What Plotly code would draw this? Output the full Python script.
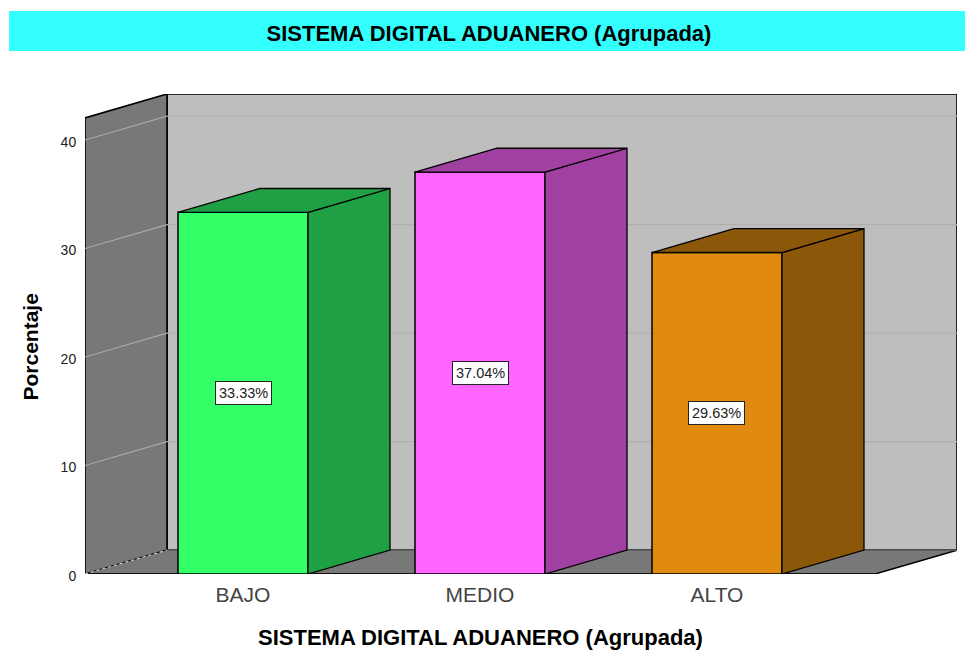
import plotly.graph_objects as go

categories = ["BAJO", "MEDIO", "ALTO"]
values = [33.33, 37.04, 29.63]
front_colors = ["#33FF66", "#FF66FF", "#E08A10"]
side_colors = ["#20A045", "#A040A0", "#8A5808"]
y_ticks = [0, 10, 20, 30, 40]
title_text = "SISTEMA DIGITAL ADUANERO (Agrupada)"
y_title = "Porcentaje"

# Scene proportions in axis units
BAR_W = 0.5485
DX = 0.346
DY = 2.2
X_LEFT = -0.6667
X_RIGHT = 3.0127
Y_TOP = 42.04
Y_MAX = Y_TOP + DY
FONT = "Liberation Sans, Arial, sans-serif"

fig = go.Figure()

fig.add_trace(go.Bar(
    x=list(range(len(categories))), y=values, width=BAR_W,
    marker=dict(color=front_colors, line=dict(color="black", width=1.5)),
    hoverinfo="skip", showlegend=False,
))

for i, v in enumerate(values):
    r = i + BAR_W / 2
    l = i - BAR_W / 2
    fig.add_trace(go.Scatter(
        x=[r, r + DX, r + DX, r, r], y=[0, DY, v + DY, v, 0],
        mode="lines", fill="toself", fillcolor=side_colors[i],
        line=dict(color="black", width=1.3), hoverinfo="skip", showlegend=False,
    ))
    fig.add_trace(go.Scatter(
        x=[l, l + DX, r + DX, r, l], y=[v, v + DY, v + DY, v, v],
        mode="lines", fill="toself", fillcolor=side_colors[i],
        line=dict(color="black", width=1.3), hoverinfo="skip", showlegend=False,
    ))

shapes = [
    # cyan title band
    dict(type="rect", xref="paper", yref="paper", x0=-0.0871, x1=1.0195, y0=1.0896, y1=1.173,
         fillcolor="#33FFFF", line=dict(width=0), layer="below"),
    # back wall
    dict(type="rect", x0=X_LEFT + DX, x1=X_RIGHT, y0=DY, y1=Y_MAX, fillcolor="#BEBEBE",
         line=dict(color="#000000", width=1.6), layer="below"),
    # left wall
    dict(type="path", path=f"M {X_LEFT} 0 L {X_LEFT + DX} {DY} L {X_LEFT + DX} {Y_MAX} L {X_LEFT} {Y_TOP} Z",
         fillcolor="#787878", line=dict(color="#000000", width=1.6), layer="below"),
    # floor
    dict(type="path", path=f"M {X_LEFT} 0 L {X_RIGHT - DX} 0 L {X_RIGHT} {DY} L {X_LEFT + DX} {DY} Z",
         fillcolor="#787878", line=dict(width=0), layer="below"),
    dict(type="line", x0=X_RIGHT - DX, x1=X_RIGHT, y0=0, y1=DY, line=dict(color="#000000", width=1.5), layer="below"),
    dict(type="line", x0=X_LEFT, x1=X_RIGHT - DX, y0=0, y1=0, line=dict(color="#111111", width=2), layer="below"),
    dict(type="line", x0=X_LEFT + DX, x1=X_RIGHT, y0=DY, y1=DY, line=dict(color="#666666", width=1.2), layer="below"),
    dict(type="line", x0=X_LEFT, x1=X_LEFT + DX, y0=0, y1=DY, line=dict(color="#C8C8C8", width=1.2, dash="dot"), layer="below"),
]
for t in y_ticks[1:]:
    shapes.append(dict(type="line", x0=X_LEFT, x1=X_LEFT + DX, y0=t, y1=t + DY,
                       line=dict(color="#A8A8A8", width=1.2), layer="below"))
    shapes.append(dict(type="line", x0=X_LEFT + DX, x1=X_RIGHT, y0=t + DY, y1=t + DY,
                       line=dict(color="#B0B0B0", width=1.2), layer="below"))

annotations = [
    dict(x=i, y=v / 2, xref="x", yref="y", text=f"{v:.2f}%", showarrow=False,
         xanchor="center", yanchor="middle",
         font=dict(family=FONT, size=14.5, color="#222222"), bgcolor="white",
         bordercolor="#222222", borderwidth=1, borderpad=3)
    for i, v in enumerate(values)
]
annotations.append(dict(x=1, xref="x", y=(574 - 637) / 480, yref="paper", text=f"<b>{title_text}</b>",
                        showarrow=False, xanchor="center", yanchor="middle",
                        font=dict(family=FONT, size=22, color="#000000")))
annotations.append(dict(x=(29.5 - 85) / 872, xref="paper", y=(574 - 347) / 480, yref="paper",
                        text=f"<b>{y_title}</b>", textangle=-90, showarrow=False,
                        xanchor="center", yanchor="middle",
                        font=dict(family=FONT, size=21, color="#000000")))

fig.update_layout(
    width=965, height=642,
    margin=dict(l=77, r=16, t=86, b=76),
    paper_bgcolor="white", plot_bgcolor="rgba(0,0,0,0)",
    showlegend=False,
    title=dict(text=f"<b>{title_text}</b>", x=0.4633, xanchor="center", xref="paper", y=0.9607, yanchor="middle",
               font=dict(family=FONT, size=22, color="#000000")),
    xaxis=dict(range=[X_LEFT, X_RIGHT], tickmode="array", tickvals=list(range(len(categories))),
               ticktext=categories, ticks="outside", ticklen=2, tickcolor="rgba(0,0,0,0)",
               showgrid=False, zeroline=False, showline=False,
               tickfont=dict(family=FONT, size=21, color="#444444")),
    yaxis=dict(range=[0, Y_MAX], tickmode="array", tickvals=y_ticks, ticks="outside", ticklen=5,
               tickcolor="rgba(0,0,0,0)", showgrid=False, zeroline=False, showline=False,
               ticklabelshift=2,
               tickfont=dict(family=FONT, size=14, color="#222222")),
    shapes=shapes, annotations=annotations,
)
fig.write_html("out.html")
